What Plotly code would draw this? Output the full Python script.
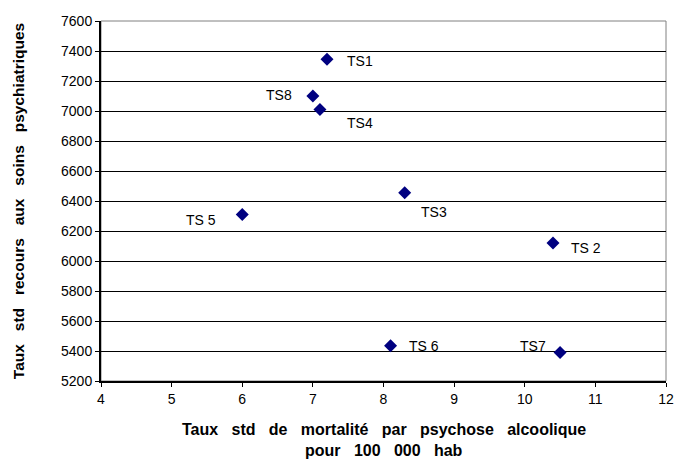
import plotly.graph_objects as go

# data
labels = ["TS1", "TS 2", "TS3", "TS4", "TS 5", "TS 6", "TS7", "TS8"]
mortalite = [7.2, 10.4, 8.3, 7.1, 6.0, 8.1, 10.5, 7.0]
recours = [7345, 6120, 6455, 7010, 6310, 5435, 5390, 7100]

# label placement (pixel offsets from the point, anchor side)
label_pos = {
    "TS1": (18, -2, "left"),
    "TS 2": (16, -5, "left"),
    "TS3": (14, -19, "left"),
    "TS4": (25, -13, "left"),
    "TS 5": (-24, -5, "right"),
    "TS 6": (16, 0, "left"),
    "TS7": (-12, 7, "right"),
    "TS8": (-19, 1, "right"),
}

font = "Liberation Sans, Arial, sans-serif"
gap = "\u00a0\u00a0\u00a0"  # the reference spreads its title words wide


def spread(text):
    return gap.join(text.split(" "))


fig = go.Figure()
fig.add_trace(go.Scatter(
    x=mortalite, y=recours, mode="markers",
    marker=dict(symbol="diamond", size=10, color="#000080"),
    showlegend=False, hoverinfo="skip",
))

for lab, xv, yv in zip(labels, mortalite, recours):
    dx, dy, side = label_pos[lab]
    fig.add_annotation(x=xv, y=yv, text=lab, showarrow=False,
                       xanchor=side, yanchor="middle", xshift=dx, yshift=dy,
                       font=dict(family=font, size=14, color="black"))

# x axis title, one annotation per line
for line, shift in [("Taux std de mortalité par psychose alcoolique", -48),
                    ("pour 100 000 hab", -69)]:
    fig.add_annotation(
        x=0.5, y=0, xref="paper", yref="paper", xanchor="center", yanchor="middle",
        yshift=shift, showarrow=False, text="<b>" + spread(line) + "</b>",
        font=dict(family=font, size=16, color="black"),
    )

fig.update_layout(
    width=675, height=459,
    margin=dict(l=101, r=9, t=21, b=78),
    plot_bgcolor="white", paper_bgcolor="white",
    font=dict(family=font, size=14, color="black"),
    shapes=[dict(type="rect", xref="paper", yref="paper", x0=0, y0=0, x1=1, y1=1,
                 line=dict(color="#808080", width=1), layer="below")],
)

fig.update_xaxes(
    range=[4, 12], dtick=1, tick0=4, showgrid=False, zeroline=False,
    showline=True, linecolor="black", linewidth=2, automargin=False,
    ticks="outside", ticklen=4, tickcolor="black", ticklabeloverflow="allow",
)
fig.update_yaxes(
    range=[5200, 7600], dtick=200, showgrid=True, gridcolor="black", gridwidth=1,
    zeroline=False, showline=True, linecolor="black", linewidth=2, automargin=False,
    ticks="outside", ticklen=4, tickcolor="black",
    title=dict(text="<b>" + spread("Taux std recours aux soins psychiatriques") + "</b>",
               font=dict(size=15.5), standoff=33),
)

# drop the default page margin so the figure sits at the window corner
fig.write_html("out.html", config={"displayModeBar": False},
               post_script="document.body.style.margin='0';")
